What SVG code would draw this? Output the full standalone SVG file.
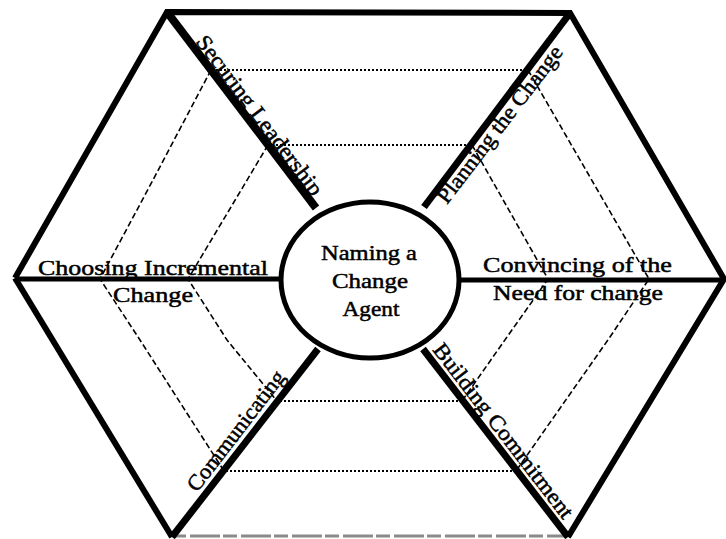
<svg xmlns="http://www.w3.org/2000/svg" width="726" height="539" viewBox="0 0 726 539">
<style>
.frame{fill:none;stroke:#000;stroke-width:6;stroke-linejoin:miter}
.spoke{stroke:#000;stroke-linecap:butt}
.dot{fill:none;stroke:#000;stroke-width:2.2;stroke-dasharray:2 2}
.dash{fill:none;stroke:#000;stroke-width:1.6;stroke-dasharray:6 3}
text{font-family:"Liberation Serif","Times New Roman",serif;font-size:22px;fill:#000;stroke:#000;stroke-width:0.5}
.c{text-anchor:middle}
</style>
<rect width="726" height="539" fill="#fff"/>
<g id="rings">
<line class="dot" x1="216" y1="70" x2="524" y2="70"/>
<line class="dot" x1="272" y1="145" x2="468" y2="145"/>
<line class="dot" x1="280" y1="401" x2="460" y2="401"/>
<line class="dot" x1="226" y1="471" x2="514" y2="471"/>
<polyline class="dash" points="211,70 153,180 100,279 140,340 224,471"/>
<polyline class="dash" points="268,145 188,279 227,340 277,401"/>
<polyline class="dash" points="528,70 649,279 610,337 516,471"/>
<polyline class="dash" points="472,145 548,279 507,337 462,401"/>
</g>
<g id="frame">
<polyline class="frame" points="15,278 167,12 570,13 724,279 568,537"/>
<line x1="15" y1="278" x2="172" y2="537" stroke="#000" stroke-width="6"/>
<line x1="172" y1="536" x2="568" y2="536" stroke="#8a8a8a" stroke-width="3" stroke-dasharray="14 4 30 3"/>
</g>
<g id="connectors">
<line class="spoke" x1="167" y1="12" x2="316" y2="208" stroke-width="8"/>
<line class="spoke" x1="570" y1="13" x2="424" y2="207" stroke-width="7"/>
<line class="spoke" x1="15" y1="279" x2="282" y2="279" stroke-width="5"/>
<line class="spoke" x1="458" y1="280" x2="724" y2="280" stroke-width="5"/>
<line class="spoke" x1="172" y1="537" x2="318" y2="349" stroke-width="7"/>
<line class="spoke" x1="568" y1="537" x2="423" y2="349" stroke-width="7"/>
</g>
<g id="center-node">
<ellipse cx="370" cy="280" rx="89" ry="78" fill="#fff" stroke="#000" stroke-width="5"/>
<text class="c" x="369" y="260" textLength="96" lengthAdjust="spacingAndGlyphs">Naming a</text>
<text class="c" x="370" y="288" textLength="76" lengthAdjust="spacingAndGlyphs">Change</text>
<text class="c" x="371" y="316" textLength="57" lengthAdjust="spacingAndGlyphs">Agent</text>
</g>
<g id="securing-leadership">
<text transform="translate(195,42) rotate(52.9)" textLength="195" lengthAdjust="spacingAndGlyphs">Securing Leadership</text>
</g>
<g id="planning-the-change">
<text transform="translate(447,205) rotate(-52.6)" textLength="192" lengthAdjust="spacingAndGlyphs">Planning the Change</text>
</g>
<g id="choosing-incremental-change">
<text x="38" y="275" textLength="230" lengthAdjust="spacingAndGlyphs">Choosing Incremental</text>
<text class="c" x="153" y="302" textLength="80" lengthAdjust="spacingAndGlyphs">Change</text>
</g>
<g id="convincing">
<text x="483" y="272" textLength="189" lengthAdjust="spacingAndGlyphs">Convincing of the</text>
<text x="493" y="300" textLength="170" lengthAdjust="spacingAndGlyphs">Need for change</text>
</g>
<g id="building-commitment">
<text transform="translate(432,350) rotate(52.4)" textLength="215" lengthAdjust="spacingAndGlyphs">Building Commitment</text>
</g>
<g id="communicating">
<text transform="translate(197,493) rotate(-52.4)" textLength="146" lengthAdjust="spacingAndGlyphs">Communicating</text>
</g>
</svg>
